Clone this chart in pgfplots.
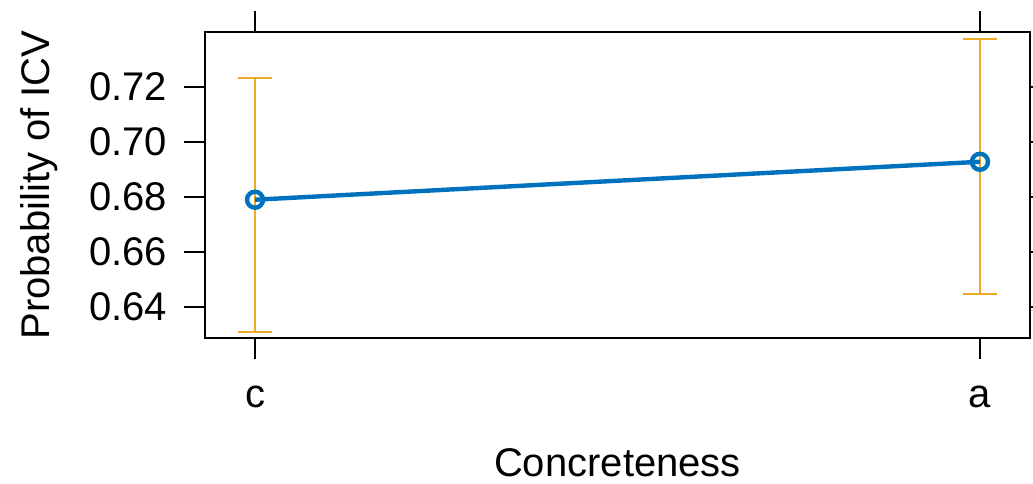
\documentclass[border=0pt]{standalone}
\usepackage{fontspec}
\setmainfont{Liberation Sans}
\usepackage{pgfplots}
\usepackage{pgfplotstable}
\pgfplotsset{compat=1.18}
\definecolor{effblue}{RGB}{0,114,189}
\definecolor{ciorange}{RGB}{236,172,40}

% x: 0 = c, 1 = a
\pgfplotstableread{
x   y       ep      em
0   0.6789  0.0443  0.0480
1   0.6927  0.0448  0.0481
}\effects

\begin{document}
\begin{tikzpicture}
  \begin{axis}[
    width=412.5pt, height=153pt, scale only axis,
    xmin=-0.069, xmax=1.069, ymin=0.6286, ymax=0.7399,
    xtick={0,1}, xticklabels={c,a},
    ytick={0.64,0.66,0.68,0.70,0.72},
    /pgf/number format/fixed, /pgf/number format/fixed zerofill,
    /pgf/number format/precision=2,
    /pgf/number format/assume math mode=true,
    xticklabel pos=lower, yticklabel pos=left,
    xtick pos=both, ytick pos=both,
    tick align=outside, major tick length=10.5pt,
    tick style={black, line width=1pt},
    axis line style={black, line width=1pt},
    every tick label/.append style={font=\fontsize{20}{24}\selectfont},
    xticklabel style={anchor=base, yshift=-24pt},
    yticklabel style={anchor=east, xshift=-5pt},
    clip=false,
  ]
    \addplot[forget plot, draw=none, mark=none,
      error bars/.cd, y dir=both, y explicit,
      error bar style={draw=ciorange, line width=1pt},
      error mark options={draw=ciorange, line width=1pt, mark size=8.5pt, rotate=90}]
      table[x=x, y=y, y error plus=ep, y error minus=em] {\effects};
    \addplot[effblue, line width=2.2pt, mark=o, mark size=4pt,
      mark options={line width=2.2pt}]
      table[x=x, y=y] {\effects};
  \end{axis}
  \node[font=\fontsize{20}{24}\selectfont, anchor=base]
    at ([yshift=-69pt]current axis.south) {Concreteness};
  \node[font=\fontsize{20}{24}\selectfont, rotate=90, anchor=base]
    at ([xshift=-77.5pt]current axis.west) {Probability of ICV};
  \pgfresetboundingbox
  \path ([xshift=-102.5pt, yshift=-72.5pt]current axis.south west)
    rectangle ++(516.5pt, 241.5pt);
\end{tikzpicture}
\end{document}
